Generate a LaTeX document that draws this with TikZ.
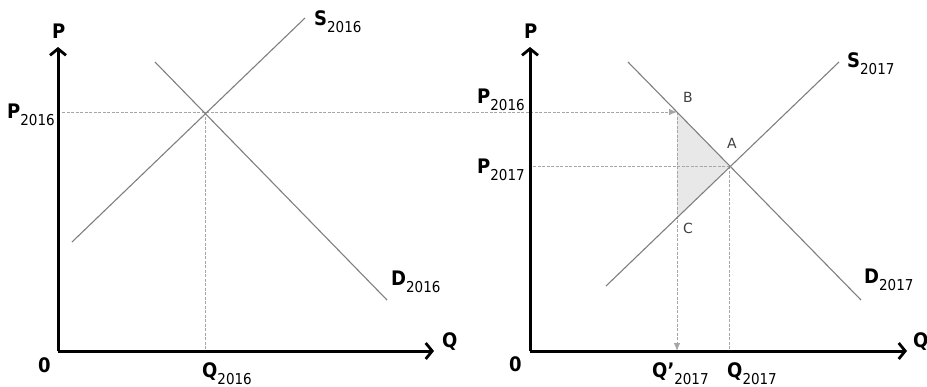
\documentclass[tikz,border=0pt]{standalone}
\usepackage{fontspec}
\setmainfont{DejaVu Sans Condensed}
\newfontfamily\ptfont{DejaVu Sans}
\usetikzlibrary{arrows.meta}
\newcommand\mainlet[1]{{\fontsize{20}{20}\selectfont\bfseries #1}}
\newcommand\lbl[2]{\mainlet{#1}\raisebox{-7pt}{\fontsize{15}{15}\selectfont #2}}
\definecolor{curve}{HTML}{7F7F7F}
\definecolor{guide}{HTML}{A6A6A6}
\definecolor{ptcol}{HTML}{404040}
\begin{document}
\begin{tikzpicture}[x=1pt,y=-1pt,
  axis/.style={line width=3pt,-{Straight Barb[length=6.5pt,width=16pt,line width=2.8pt]}},
  curveline/.style={curve,line width=1.1pt},
  guideline/.style={guide,line width=0.9pt,dash pattern=on 3pt off 1.5pt},
  guidearrow/.style={guideline,-{Latex[length=8pt,width=6.5pt]}},
  txt/.style={inner sep=0pt,anchor=base west},
  pt/.style={inner sep=0pt,font=\ptfont\fontsize{14}{14}\selectfont,text=ptcol}]
\useasboundingbox (0,0) rectangle (927,386);
% ---------- left panel ----------
\coordinate (O1) at (58,351);
\coordinate (Y1) at (58,47);
\coordinate (X1) at (434,351);
\coordinate (E1) at (205,112);
\coordinate (Q1) at (205,351);
\coordinate (S1a) at (72,242);
\coordinate (S1b) at (305,18);
\coordinate (D1a) at (155,62);
\coordinate (D1b) at (387,300);
\coordinate (H1) at (62,112);
% ---------- right panel ----------
\coordinate (O2) at (530,351);
\coordinate (Y2) at (530,47);
\coordinate (X2) at (907,351);
\coordinate (A) at (729,166);
\coordinate (B) at (677,112);
\coordinate (C) at (677,218);
\coordinate (Qp) at (677,351);
\coordinate (Q2) at (729,351);
\coordinate (H2) at (533,166);
\coordinate (S2a) at (606,286);
\coordinate (S2b) at (839,62);
\coordinate (D2a) at (628,62);
\coordinate (D2b) at (861,300);
% shaded triangle
\fill[gray!18] (B) -- (A) -- (C) -- cycle;
% guides
\draw[guidearrow] (H1) -- (B);
\draw[guideline] (E1) -- (Q1);
\draw[guideline] (H2) -- (A);
\draw[guidearrow] (B) -- (Qp);
\draw[guideline] (A) -- (Q2);
% curves
\draw[curveline] (S1a) -- (S1b);
\draw[curveline] (D1a) -- (D1b);
\draw[curveline] (S2a) -- (S2b);
\draw[curveline] (D2a) -- (D2b);
% axes
\draw[axis] (O1) -- (Y1);
\draw[axis] (O1) -- (X1);
\draw[axis] (O2) -- (Y2);
\draw[axis] (O2) -- (X2);
% labels left
\node[txt] (lP1) at (52,38) {\mainlet{P}};
\node[txt] (lO1) at (38,372) {\mainlet{0}};
\node[txt] (lQ1) at (442,347) {\mainlet{Q}};
\node[txt] (lP2016a) at (7,118) {\lbl{P}{2016}};
\node[txt] (lS2016) at (314,25) {\lbl{S}{2016}};
\node[txt] (lD2016) at (391,285) {\lbl{D}{2016}};
\node[txt] (lQ2016) at (202,377) {\lbl{Q}{2016}};
% labels right
\node[txt] (lP2) at (524,38) {\mainlet{P}};
\node[txt] (lO2) at (509,371) {\mainlet{0}};
\node[txt] (lQ2) at (913,347) {\mainlet{Q}};
\node[txt] (lP2016b) at (477,103) {\lbl{P}{2016}};
\node[txt] (lP2017) at (477,173) {\lbl{P}{2017}};
\node[txt] (lS2017) at (847,67) {\lbl{S}{2017}};
\node[txt] (lD2017) at (864,283) {\lbl{D}{2017}};
\node[txt] (lQp2017) at (652,377) {\lbl{Q’}{2017}};
\node[txt] (lQ2017) at (727,377) {\lbl{Q}{2017}};
\node[pt] (lA) at (732,143) {A};
\node[pt] (lB) at (688,97) {B};
\node[pt] (lC) at (688,228) {C};
\end{tikzpicture}
\end{document}
